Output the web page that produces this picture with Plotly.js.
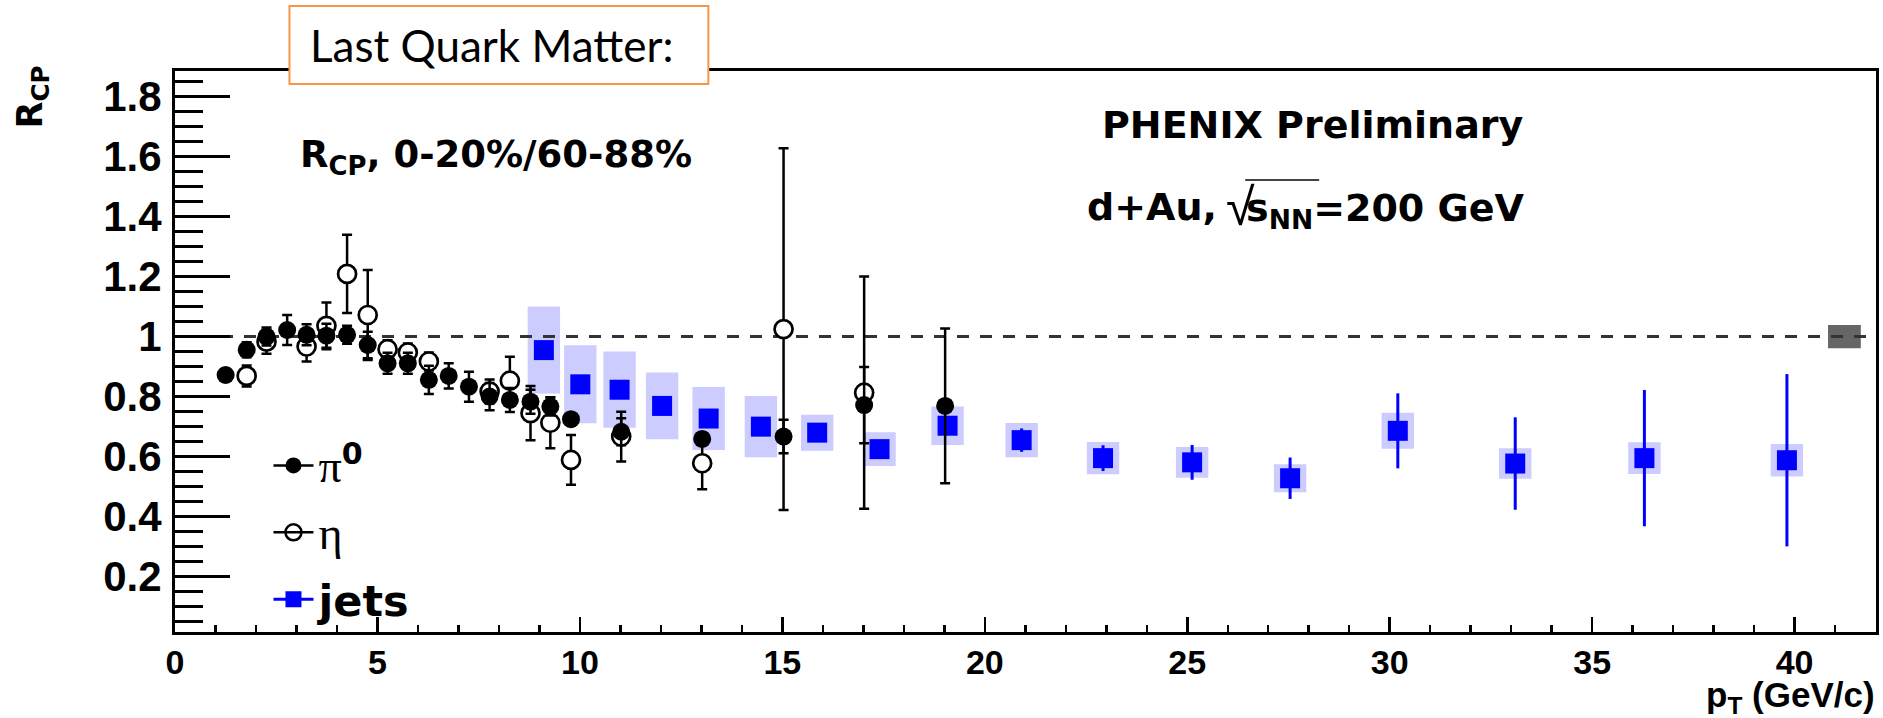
<!DOCTYPE html>
<html>
<head>
<meta charset="utf-8">
<script src="https://cdn.plot.ly/plotly-3.0.1.min.js"></script>
<style>
  html, body { margin: 0; padding: 0; background: #ffffff; }
  #chart { width: 1883px; height: 718px; }
</style>
</head>
<body>
<div id="chart"></div>
<script>
// pi0 R_CP, 0-20% / 60-88%
const pi0Pt  = [1.25, 1.77, 2.26, 2.77, 3.25, 3.74, 4.25, 4.76, 5.25, 5.75, 6.27, 6.76, 7.26, 7.77, 8.27, 8.78, 9.27, 9.78, 11.02, 13.02, 15.03, 17.02, 19.02];
const pi0R   = [0.872, 0.956, 1.000, 1.022, 1.006, 1.003, 1.006, 0.972, 0.911, 0.911, 0.856, 0.869, 0.833, 0.800, 0.789, 0.783, 0.767, 0.725, 0.683, 0.659, 0.667, 0.772, 0.769];
const pi0Err = [0.020, 0.025, 0.030, 0.050, 0.035, 0.040, 0.030, 0.044, 0.035, 0.035, 0.047, 0.042, 0.050, 0.045, 0.040, 0.040, 0.030, 0.020, 0.045, 0.020, 0.056, 0.127, 0.258];

// eta R_CP
const etaPt  = [1.77, 2.26, 3.25, 3.74, 4.25, 4.76, 5.25, 5.75, 6.27, 7.77, 8.27, 8.78, 9.27, 9.78, 11.02, 13.02, 15.03, 17.02];
const etaR   = [0.869, 0.983, 0.967, 1.036, 1.209, 1.072, 0.958, 0.947, 0.917, 0.817, 0.853, 0.745, 0.713, 0.589, 0.667, 0.578, 1.025, 0.813];
const etaErr = [0.035, 0.040, 0.050, 0.078, 0.130, 0.150, 0.030, 0.030, 0.030, 0.040, 0.080, 0.090, 0.085, 0.083, 0.083, 0.087, 0.603, 0.387];

// jet R_CP with statistical and systematic uncertainties
const jetPt   = [9.11, 10.01, 10.98, 12.03, 13.18, 14.47, 15.86, 17.40, 19.08, 20.91, 22.92, 25.12, 27.54, 30.20, 33.10, 36.29, 39.81];
const jetR    = [0.955, 0.841, 0.823, 0.769, 0.727, 0.700, 0.680, 0.625, 0.703, 0.655, 0.595, 0.581, 0.528, 0.686, 0.577, 0.595, 0.588];
const jetStat = [0.030, 0.030, 0.030, 0.030, 0.030, 0.030, 0.030, 0.030, 0.030, 0.039, 0.043, 0.058, 0.069, 0.125, 0.154, 0.227, 0.287];
const jetSys  = [0.145, 0.130, 0.127, 0.111, 0.105, 0.102, 0.060, 0.056, 0.064, 0.057, 0.054, 0.051, 0.047, 0.060, 0.051, 0.053, 0.054];
const jetSysWidth = 0.8;

// global normalisation uncertainty, drawn at the right edge around unity
const normPt = [41.23];
const normErr = [0.039];
const normWidth = 0.81;

const xRange = [0, 42.01];
const yRange = [0.0157, 1.885];

const W = 1883, H = 718;
const M = { l: 174.5, r: 7, t: 71, b: 86 };
// pixel position on the page -> paper fraction
const px = x => (x - M.l) / (W - M.l - M.r);
const py = y => (H - M.b - y) / (H - M.t - M.b);

const sans = 'DejaVu Sans';
const helv = 'Liberation Sans';

const traces = [
  // systematic boxes
  {
    type: 'bar', x: jetPt,
    base: jetR.map((r, i) => r - jetSys[i]),
    y: jetSys.map(s => 2 * s),
    width: jetSysWidth,
    marker: { color: '#ccccff', line: { width: 0 } },
    showlegend: false, hoverinfo: 'skip'
  },
  // normalisation box
  {
    type: 'bar', x: normPt,
    base: normErr.map(e => 1 - e),
    y: normErr.map(e => 2 * e),
    width: normWidth,
    marker: { color: '#666666', line: { width: 0 } },
    showlegend: false, hoverinfo: 'skip'
  },
  // unity reference
  {
    type: 'scatter', mode: 'lines', x: xRange, y: [1, 1],
    line: { color: '#333333', width: 3, dash: '12px,11px' },
    showlegend: false, hoverinfo: 'skip'
  },
  // jets
  {
    type: 'scatter', mode: 'markers', x: jetPt, y: jetR,
    error_y: { type: 'data', array: jetStat, color: '#0000ff', thickness: 3, width: 0 },
    marker: { symbol: 'square', size: 20, color: '#0000ff', line: { width: 0 } },
    showlegend: false
  },
  // eta
  {
    type: 'scatter', mode: 'markers', x: etaPt, y: etaR,
    error_y: { type: 'data', array: etaErr, color: '#000000', thickness: 2.5, width: 5 },
    marker: { symbol: 'circle', size: 18, color: '#ffffff', line: { color: '#000000', width: 2.7 } },
    showlegend: false
  },
  // pi0
  {
    type: 'scatter', mode: 'markers', x: pi0Pt, y: pi0R,
    error_y: { type: 'data', array: pi0Err, color: '#000000', thickness: 2.5, width: 5 },
    marker: { symbol: 'circle', size: 18, color: '#000000', line: { width: 0 } },
    showlegend: false
  },
  // legend entries
  {
    type: 'scatter', mode: 'lines+markers', x: [null], y: [null], legendgroup: 'a',
    name: '<span style="font-family:Liberation Serif;font-weight:normal;font-size:46px">π</span><sup>0</sup>',
    line: { color: '#000000', width: 2.5 },
    marker: { symbol: 'circle', size: 18, color: '#000000', line: { width: 0 } }
  },
  {
    type: 'scatter', mode: 'lines+markers', x: [null], y: [null], legendgroup: 'b',
    name: '<span style="font-family:Liberation Serif;font-weight:normal;font-size:46px">η</span>',
    line: { color: '#000000', width: 2.5 },
    marker: { symbol: 'circle-open', size: 16, color: '#000000', line: { color: '#000000', width: 2.5 } }
  },
  {
    type: 'scatter', mode: 'lines+markers', x: [null], y: [null], legendgroup: 'c',
    name: 'jets',
    line: { color: '#0000ff', width: 3 },
    marker: { symbol: 'square', size: 20, color: '#0000ff', line: { width: 0 } }
  }
];

const layout = {
  width: W, height: H,
  margin: M,
  paper_bgcolor: '#ffffff', plot_bgcolor: '#ffffff',
  barmode: 'overlay',
  showlegend: true,
  legend: {
    x: px(268), y: py(431), xanchor: 'left', yanchor: 'top',
    bgcolor: 'rgba(0,0,0,0)', borderwidth: 0,
    traceorder: 'grouped', tracegroupgap: 8,
    itemwidth: 40, itemsizing: 'trace',
    font: { family: sans, size: 43, weight: 'bold', color: '#000000' }
  },
  xaxis: {
    range: xRange, showgrid: false, zeroline: false,
    showline: true, mirror: true, linecolor: '#000000', linewidth: 3,
    ticks: 'inside', tick0: 0, dtick: 5, ticklen: 15, tickwidth: 2.5, tickcolor: '#000000',
    minor: { ticks: 'inside', dtick: 1, ticklen: 7.5, tickwidth: 2.5, tickcolor: '#000000', showgrid: false },
    tickfont: { family: helv, size: 34, weight: 'bold', color: '#000000' },
    ticklabelstandoff: -2
  },
  yaxis: {
    range: yRange, showgrid: false, zeroline: false,
    showline: true, mirror: true, linecolor: '#000000', linewidth: 3,
    ticks: 'inside', tick0: 0, dtick: 0.2, ticklen: 55, tickwidth: 2.7, tickcolor: '#000000',
    minor: { ticks: 'inside', dtick: 0.05, ticklen: 28, tickwidth: 2.7, tickcolor: '#000000', showgrid: false },
    tickfont: { family: helv, size: 42, weight: 'bold', color: '#000000' },
    ticklabelstandoff: 2
  },
  shapes: [
    // "Last Quark Matter:" frame
    {
      type: 'rect', xref: 'paper', yref: 'paper', layer: 'above',
      x0: px(289), x1: px(708), y0: py(84), y1: py(6),
      fillcolor: '#ffffff', line: { color: '#f79646', width: 2 }
    },
    // bar of the square root over s_NN
    {
      type: 'line', xref: 'paper', yref: 'paper', layer: 'above',
      x0: px(1245), x1: px(1319), y0: py(180), y1: py(180),
      line: { color: '#444444', width: 2 }
    }
  ],
  annotations: [
    {
      xref: 'paper', yref: 'paper', x: px(308), y: py(45), xanchor: 'left', yanchor: 'middle',
      text: 'Last Quark Matter:', showarrow: false,
      font: { family: 'Lato', size: 44, color: '#000000' }
    },
    {
      xref: 'paper', yref: 'paper', x: px(31), y: py(97), xanchor: 'center', yanchor: 'middle',
      text: 'R<sub>CP</sub>', textangle: -90, showarrow: false,
      font: { family: sans, size: 35, weight: 'bold', color: '#000000' }
    },
    {
      xref: 'paper', yref: 'paper', x: px(1877), y: py(697), xanchor: 'right', yanchor: 'middle',
      text: 'p<sub>T</sub> (GeV/c)', showarrow: false,
      font: { family: helv, size: 35, weight: 'bold', color: '#000000' }
    },
    {
      xref: 'paper', yref: 'paper', x: px(298), y: py(157), xanchor: 'left', yanchor: 'middle',
      text: 'R<sub>CP</sub>, 0-20%/60-88%', showarrow: false,
      font: { family: sans, size: 37, weight: 'bold', color: '#000000' }
    },
    {
      xref: 'paper', yref: 'paper', x: px(1526), y: py(125), xanchor: 'right', yanchor: 'middle',
      text: 'PHENIX Preliminary', showarrow: false,
      font: { family: sans, size: 38, weight: 'bold', color: '#000000' }
    },
    {
      xref: 'paper', yref: 'paper', x: px(1085), y: py(207), xanchor: 'left', yanchor: 'middle',
      text: 'd+Au,', showarrow: false,
      font: { family: sans, size: 38, weight: 'bold', color: '#000000' }
    },
    {
      xref: 'paper', yref: 'paper', x: px(1240), y: py(207), xanchor: 'center', yanchor: 'middle',
      text: '√', showarrow: false, borderpad: 0,
      font: { family: helv, size: 52, color: '#000000' }
    },
    {
      xref: 'paper', yref: 'paper', x: px(1526), y: py(211), xanchor: 'right', yanchor: 'middle',
      text: 's<sub>NN</sub>=200 GeV', showarrow: false,
      font: { family: sans, size: 38, weight: 'bold', color: '#000000' }
    }
  ]
};

Plotly.newPlot('chart', traces, layout, { displayModeBar: false, staticPlot: true });
</script>
</body>
</html>
